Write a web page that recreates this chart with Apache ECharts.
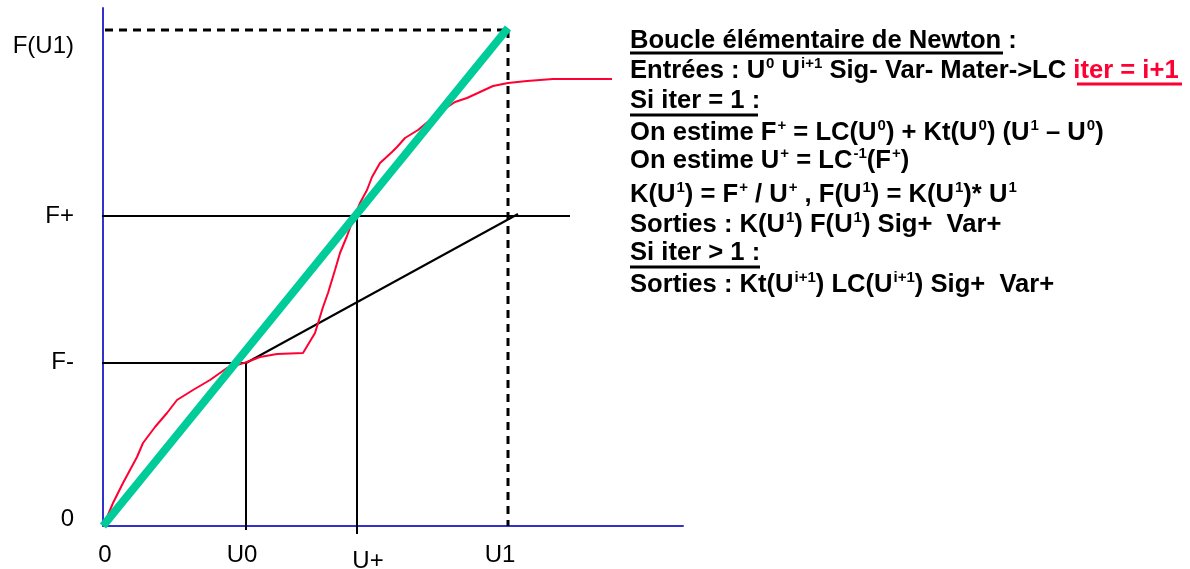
<!DOCTYPE html>
<html>
<head>
    <meta charset="UTF-8">
    <title>Boucle de Newton</title>
    <script src="https://cdn.jsdelivr.net/npm/echarts@6/dist/echarts.min.js"></script>
    <style>
        html, body { margin: 0; padding: 0; background: #fff; }
        #chart { width: 1190px; height: 569px; }
    </style>
</head>
<body>
    <div id="chart"></div>
    <script type="text/javascript">
        // tick labels and where they sit on each axis
        var xLabels = ['0', 'U0', 'U+', 'U1'];
        var xLabelPos = [2, 139, 265, 397];
        var yLabels = ['0', 'F-', 'F+', 'F(U1)'];
        var yLabelPos = [7, 164, 310, 480];

        // key abscissae / ordinates
        var U0 = 143, Uplus = 254, U1 = 405;
        var Fminus = 163, Fplus = 310, FU1 = 496;

        // material behaviour curve (red)
        var lcCurve = [
            [0, 0], [2, 4], [10, 23], [20, 43], [34, 69], [40, 83], [52, 99], [64, 113],
            [74, 126], [90, 136], [107, 146], [124, 158], [144, 164], [157, 169],
            [174, 172], [200, 173], [202, 175], [212, 193], [220, 219], [225, 233],
            [232, 256], [237, 273], [244, 290], [250, 306], [257, 323], [264, 336],
            [269, 349], [277, 363], [289, 374], [294, 379], [302, 388], [315, 396],
            [327, 406], [340, 416], [352, 424], [364, 428], [377, 434], [390, 440],
            [405, 443], [424, 445], [450, 447], [480, 447], [509, 447]
        ];

        // secant K(U1) (green)
        var secant = [[0, 0], [U1, 498]];
        // tangent Kt(U0) (black)
        var tangent = [[U0, Fminus], [415, 312]];

        var chart = echarts.init(document.getElementById('chart'));

        var font = '"Liberation Sans", Arial, sans-serif';

        function blackLine(data, dashed) {
            return {
                type: 'line',
                data: data,
                symbol: 'none',
                clip: false,
                silent: true,
                z: 2,
                lineStyle: {
                    color: '#000',
                    width: dashed ? 3 : 2,
                    type: dashed ? [8, 6] : 'solid'
                }
            };
        }

        var fs = 25.6;
        var sup = { fontSize: 15, fontWeight: 'bold', fontFamily: font, fill: '#000', verticalAlign: 'top', lineHeight: 14, padding: [0, 0, 0, 1] };
        var red = { fontSize: fs, fontWeight: 'bold', fontFamily: font, fill: '#ff0033', lineHeight: 30 };

        var textLines = [
            'Boucle élémentaire de Newton :',
            'Entrées : U{s|0} U{s|i+1} Sig- Var- Mater->LC {r|iter = i+1}',
            'Si iter = 1 :',
            'On estime F{s|+} = LC(U{s|0}) + Kt(U{s|0}) (U{s|1} – U{s|0})',
            'On estime U{s|+} = LC{s|-1}(F{s|+})',
            'K(U{s|1}) = F{s|+} / U{s|+} , F(U{s|1}) = K(U{s|1})* U{s|1}',
            'Sorties : K(U{s|1}) F(U{s|1}) Sig+  Var+',
            'Si iter > 1 :',
            'Sorties : Kt(U{s|i+1}) LC(U{s|i+1}) Sig+  Var+'
        ];
        var baselines = [48, 78, 108, 140, 168, 202, 232, 260, 292];

        var graphics = textLines.map(function (t, i) {
            return {
                type: 'text',
                left: 630,
                top: baselines[i] - 22,
                style: {
                    text: t,
                    fontSize: fs,
                    fontWeight: 'bold',
                    fontFamily: font,
                    fill: '#000',
                    lineHeight: 30,
                    rich: { s: sup, r: red }
                }
            };
        });
        // underlines
        [[630, 1003, 53, '#000'], [1077, 1182, 84, '#ff0033'], [630, 758, 115, '#000'], [630, 760, 267, '#000']]
            .forEach(function (u) {
                graphics.push({
                    type: 'line',
                    shape: { x1: u[0], y1: u[2], x2: u[1], y2: u[2] },
                    style: { stroke: u[3], lineWidth: 3 }
                });
            });

        var option = {
            animation: false,
            backgroundColor: '#fff',
            grid: { left: 103, right: 507, top: 8, bottom: 43, containLabel: false, outerBoundsMode: 'none' },
            xAxis: {
                type: 'value',
                min: 0,
                max: 580,
                splitLine: { show: false },
                axisTick: { show: false },
                axisLine: { lineStyle: { color: '#3333cc', width: 2 } },
                axisLabel: {
                    customValues: xLabelPos,
                    margin: 17,
                    fontSize: 24,
                    fontFamily: font,
                    color: '#000',
                    formatter: function (v) {
                        var s = xLabels[xLabelPos.indexOf(v)];
                        return s === 'U+' ? '{low|' + s + '}' : s;
                    },
                    rich: {
                        low: { fontSize: 24, fontFamily: font, color: '#000', padding: [6, 0, 0, 0] }
                    }
                }
            },
            yAxis: {
                type: 'value',
                min: 0,
                max: 518,
                splitLine: { show: false },
                axisTick: { show: false },
                axisLine: { lineStyle: { color: '#3333cc', width: 2 } },
                axisLabel: {
                    customValues: yLabelPos,
                    margin: 29,
                    fontSize: 24,
                    fontFamily: font,
                    color: '#000',
                    formatter: function (v) { return yLabels[yLabelPos.indexOf(v)]; }
                }
            },
            series: [
                blackLine([[-2, Fminus], [U0, Fminus]]),
                blackLine([[U0, -4], [U0, Fminus]]),
                blackLine([[-2, Fplus], [467, Fplus]]),
                blackLine([[Uplus, -8], [Uplus, Fplus]]),
                blackLine(tangent),
                blackLine([[2, FU1], [U1, FU1]], true),
                blackLine([[U1, FU1], [U1, 0]], true),
                {
                    type: 'line',
                    data: lcCurve,
                    symbol: 'none',
                    clip: false,
                    silent: true,
                    z: 3,
                    lineStyle: { color: '#ff0033', width: 2 }
                },
                {
                    type: 'line',
                    data: secant,
                    symbol: 'none',
                    clip: false,
                    silent: true,
                    z: 4,
                    lineStyle: { color: '#00cc99', width: 8 }
                }
            ],
            graphic: graphics
        };

        chart.setOption(option);
    </script>
</body>
</html>
